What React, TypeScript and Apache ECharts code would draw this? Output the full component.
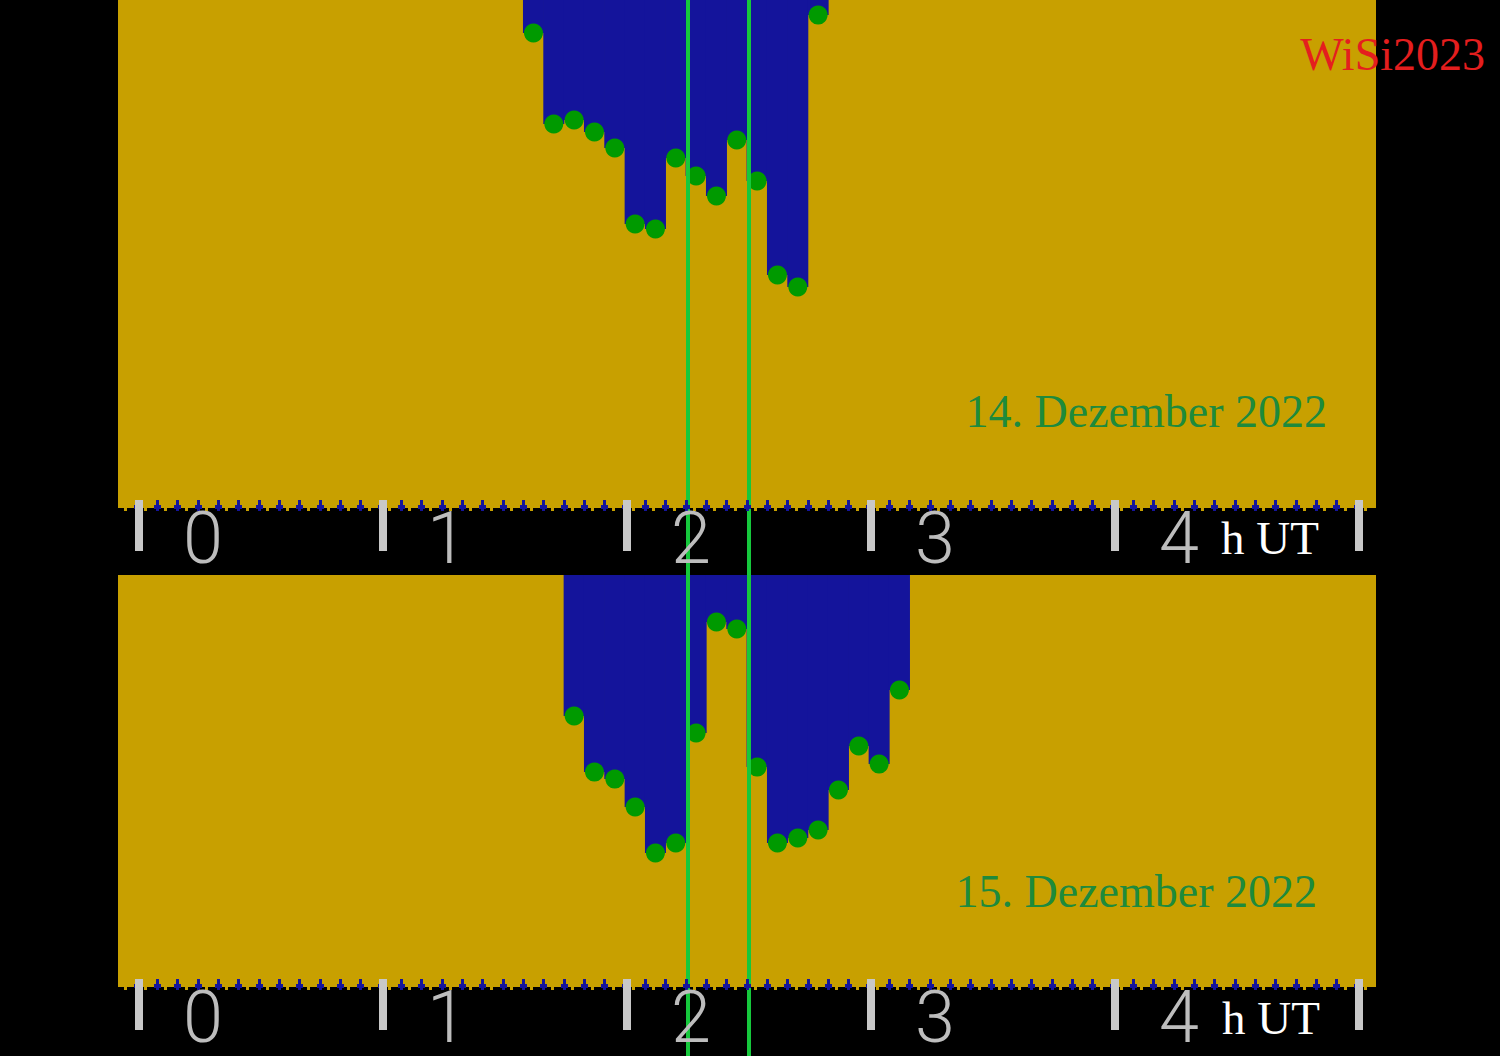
import React, { useEffect, useRef } from "react";
import * as echarts from "echarts";

// Bin centres (minutes after 0 h UT) and depth of each blue bar (from the panel top)
const TOP_TIMES = [97, 102, 107, 112, 117, 122, 127, 132, 137, 142, 147, 152, 157, 162, 167];
const TOP_DEPTH = [33, 124, 120, 132, 148, 224, 229, 158, 176, 196, 140, 181, 275, 287, 15];
const BOTTOM_TIMES = [107, 112, 117, 122, 127, 132, 137, 142, 147, 152, 157, 162, 167, 172, 177, 182, 187];
const BOTTOM_DEPTH = [141, 197, 204, 232, 278, 268, 158, 47, 54, 192, 268, 263, 255, 215, 171, 189, 115];
const HOUR_TICKS = [0, 60, 120, 180, 240, 300];
const HOUR_LABEL_VALUES = [0, 60, 120, 180, 240];
const MARK_TIMES = [135, 150];
const DATE_LABELS = ["14. Dezember 2022", "15. Dezember 2022"];
const WATERMARK = "WiSi2023";
const UNIT_LABEL = "h UT";

const X_MIN = -5.164;
const X_MAX = 304.18;

const GOLD = "#c8a000";
const BLUE = "#14149b";
const DOT = "#009a00";
const LINE_GREEN = "#16c83c";
const TICK = "#c8c8c8";

const minorTicks: number[] = [];
for (let m = -0.5; m <= X_MAX; m += 5) minorTicks.push(m);
const goldBumps: number[] = [];
for (let m = -3.5; m <= X_MAX; m += 5) goldBumps.push(m);

function panelAxes(gridIndex: number) {
  const base = {
    type: "value",
    gridIndex,
    min: X_MIN,
    max: X_MAX,
    position: "bottom",
    splitLine: { show: false },
    axisLine: { show: false, onZero: false },
  };
  return [
    {
      ...base,
      z: 6,
      offset: -8,
      axisTick: {
        show: true,
        customValues: HOUR_TICKS,
        length: 51,
        lineStyle: { color: TICK, width: 8 },
      },
      axisLabel: {
        show: true,
        customValues: HOUR_LABEL_VALUES,
        formatter: (v: number) => String(Math.round(v / 60)),
        color: "#bdbdbd",
        fontFamily: "Roboto",
        fontWeight: 300,
        fontSize: 72,
        lineHeight: 56,
        align: "left",
        padding: [0, 0, 0, 44],
        margin: 10,
      },
    },
    {
      ...base,
      z: 5,
      offset: -8,
      axisLabel: { show: false },
      axisTick: {
        show: true,
        customValues: minorTicks,
        length: 11,
        lineStyle: { color: BLUE, width: 3 },
      },
    },
    {
      ...base,
      z: 5,
      offset: -3,
      axisLabel: { show: false },
      axisTick: {
        show: true,
        customValues: minorTicks,
        length: 4,
        lineStyle: { color: BLUE, width: 7 },
      },
    },
    {
      ...base,
      z: 4,
      offset: 0,
      axisLabel: { show: false },
      axisTick: {
        show: true,
        customValues: goldBumps,
        length: 3,
        lineStyle: { color: GOLD, width: 3 },
      },
    },
  ];
}

export default function App() {
  const ref = useRef<HTMLDivElement>(null);
  useEffect(() => {
    if (!ref.current) return;
    const chart = echarts.init(ref.current, null, { renderer: "svg" });
    const gridBase = { left: 118, width: 1258, show: true, backgroundColor: GOLD, borderWidth: 0 };
    const option: any = {
      animation: false,
      backgroundColor: "#000",
      grid: [
        { ...gridBase, top: 0, height: 508 },
        { ...gridBase, top: 575, height: 412 },
        { left: 118, width: 1258, top: 0, height: 1056, show: false },
      ],
      xAxis: [
        ...panelAxes(0),
        ...panelAxes(1),
        {
          type: "value",
          gridIndex: 2,
          min: X_MIN,
          max: X_MAX,
          show: false,
          splitLine: { show: false },
          axisLine: { onZero: false },
        },
      ],
      yAxis: [
        { type: "value", gridIndex: 0, inverse: true, min: 0, max: 508, show: false, splitLine: { show: false } },
        { type: "value", gridIndex: 1, inverse: true, min: 0, max: 412, show: false, splitLine: { show: false } },
        { type: "value", gridIndex: 2, min: 0, max: 1, show: false, splitLine: { show: false } },
      ],
      series: [
        {
          type: "bar",
          xAxisIndex: 0,
          yAxisIndex: 0,
          barWidth: 21,
          itemStyle: { color: BLUE, borderWidth: 0 },
          z: 2,
          data: TOP_TIMES.map((t, i) => [t, TOP_DEPTH[i]]),
        },
        {
          type: "scatter",
          xAxisIndex: 0,
          yAxisIndex: 0,
          symbol: "circle",
          symbolSize: 19,
          itemStyle: { color: DOT, opacity: 1 },
          z: 3,
          data: TOP_TIMES.map((t, i) => [t, TOP_DEPTH[i]]),
        },
        {
          type: "bar",
          xAxisIndex: 4,
          yAxisIndex: 1,
          barWidth: 21,
          itemStyle: { color: BLUE, borderWidth: 0 },
          z: 2,
          data: BOTTOM_TIMES.map((t, i) => [t, BOTTOM_DEPTH[i]]),
        },
        {
          type: "scatter",
          xAxisIndex: 4,
          yAxisIndex: 1,
          symbol: "circle",
          symbolSize: 19,
          itemStyle: { color: DOT, opacity: 1 },
          z: 3,
          data: BOTTOM_TIMES.map((t, i) => [t, BOTTOM_DEPTH[i]]),
        },
        {
          type: "line",
          xAxisIndex: 8,
          yAxisIndex: 2,
          data: [],
          z: 10,
          markLine: {
            silent: true,
            symbol: ["none", "none"],
            label: { show: false },
            lineStyle: { color: LINE_GREEN, width: 4, type: "solid", opacity: 1 },
            data: MARK_TIMES.map((t) => ({ xAxis: t })),
          },
        },
      ],
      graphic: [
        {
          type: "text",
          z: 20,
          style: {
            text: DATE_LABELS[0],
            x: 1327,
            y: 411.5,
            align: "right",
            verticalAlign: "middle",
            fill: "#1e8a3c",
            fontFamily: "Liberation Serif",
            fontSize: 46,
          },
        },
        {
          type: "text",
          z: 20,
          style: {
            text: DATE_LABELS[1],
            x: 1317,
            y: 891.5,
            align: "right",
            verticalAlign: "middle",
            fill: "#1e8a3c",
            fontFamily: "Liberation Serif",
            fontSize: 46,
          },
        },
        {
          type: "text",
          z: 20,
          style: {
            text: WATERMARK,
            x: 1485,
            y: 54,
            align: "right",
            verticalAlign: "middle",
            fill: "#e41e1e",
            fontFamily: "Liberation Serif",
            fontSize: 46,
          },
        },
        {
          type: "text",
          z: 20,
          style: {
            text: UNIT_LABEL,
            x: 1221,
            y: 537.5,
            align: "left",
            verticalAlign: "middle",
            fill: "#ffffff",
            fontFamily: "Liberation Serif",
            fontSize: 47,
          },
        },
        {
          type: "text",
          z: 20,
          style: {
            text: UNIT_LABEL,
            x: 1222,
            y: 1018,
            align: "left",
            verticalAlign: "middle",
            fill: "#ffffff",
            fontFamily: "Liberation Serif",
            fontSize: 47,
          },
        },
      ],
    };
    chart.setOption(option);
    return () => chart.dispose();
  }, []);
  return (
    <div
      ref={ref}
      style={{ position: "absolute", left: 0, top: 0, width: 1500, height: 1056, background: "#000" }}
    />
  );
}
